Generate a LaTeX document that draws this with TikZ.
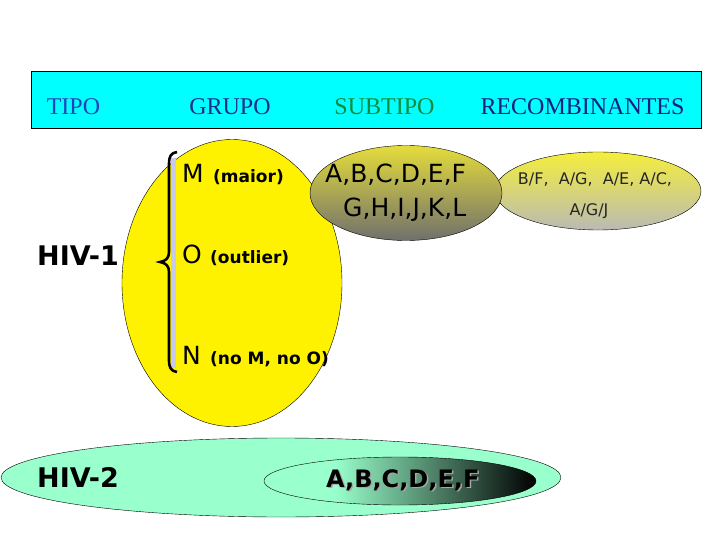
\documentclass[tikz,border=0pt]{standalone}
\usepackage{fontspec}
\setmainfont{Liberation Serif}
\newfontfamily\sansv{DejaVu Sans}
\usepackage{tikz}
\usetikzlibrary{shapes.geometric,positioning}

\definecolor{ciano}{RGB}{0,255,255}
\definecolor{azulTipo}{RGB}{34,68,187}
\definecolor{azulGrupo}{RGB}{28,44,140}
\definecolor{verdeSub}{RGB}{14,138,58}
\definecolor{azulRec}{RGB}{20,32,128}
\definecolor{aguamarinha}{RGB}{153,255,204}
\definecolor{lavanda}{RGB}{200,200,240}
\definecolor{amareloSub}{RGB}{228,220,60}
\definecolor{cinzaSub}{RGB}{112,112,108}
\definecolor{amareloRec}{RGB}{244,238,60}
\definecolor{cinzaRec}{RGB}{186,186,180}
\pgfdeclarehorizontalshading{escurece}{100bp}{color(0bp)=(aguamarinha); color(38bp)=(aguamarinha); color(75bp)=(black); color(100bp)=(black)}

\begin{document}
\begin{tikzpicture}[x=1pt,y=-1pt]
          \tikzset{CabStyle/.style={font=\fontsize{24}{26}\selectfont, inner sep=0pt}}
          \tikzset{GrupoStyle/.style={font=\sansv\fontsize{25}{27}\selectfont, inner sep=0pt, anchor=base west}}
          \tikzset{NotaStyle/.style={font=\sansv\bfseries\fontsize{17}{19}\selectfont, inner sep=0pt, anchor=base west}}
          \tikzset{TipoStyle/.style={font=\sansv\bfseries\fontsize{27}{29}\selectfont, inner sep=0pt, anchor=base west}}
          \tikzset{RecStyle/.style={font=\sansv\fontsize{16}{18}\selectfont, text=black!85, inner sep=0pt}}
          \tikzset{ElipseStyle/.style={ellipse, draw, inner sep=0pt}}

          \useasboundingbox (0,0) rectangle (720,540);

          % cabecalho
          \node[draw, fill=ciano, minimum width=670pt, minimum height=57pt, inner sep=0pt, anchor=north west] (barra) at (31,71) {};
          \node[CabStyle, text=azulTipo] (tipo) at (73.5,107) {TIPO};
          \node[CabStyle, text=azulGrupo] (grupo) at (230,107) {GRUPO};
          \node[CabStyle, text=verdeSub] (subtipo) at (384.5,107) {SUBTIPO};
          \node[CabStyle, text=azulRec] (recomb) at (582.5,107) {RECOMBINANTES};

          % HIV-1
          \node[ElipseStyle, fill=yellow, minimum width=220pt, minimum height=287pt] (hiv1e) at (232,283) {};
          \node[ElipseStyle, top color=amareloRec, bottom color=cinzaRec, minimum width=206pt, minimum height=78pt] (rece) at (598,191) {};
          \node[ElipseStyle, top color=amareloSub, bottom color=cinzaSub, minimum width=192pt, minimum height=95pt] (sube) at (406,193) {};

          \fill[lavanda] (171,158) rectangle (175.5,368);
          \draw[line width=2.6pt] (177,152) .. controls (171,153) and (169,156) .. (169,164)
            -- (169,252) .. controls (169,258) and (166,261) .. (160,262)
            .. controls (166,263) and (169,266) .. (169,272)
            -- (169,360) .. controls (169,368) and (171,371) .. (177,372);

          \node[TipoStyle] (hiv1) at (37,265) {HIV-1};
          \node[GrupoStyle] (m) at (182,183) {M};
          \node[NotaStyle] (mnota) at (213,183) {(maior)};
          \node[GrupoStyle] (o) at (182,263) {O};
          \node[NotaStyle] (onota) at (210,263) {(outlier)};
          \node[GrupoStyle] (n) at (182,364) {N};
          \node[NotaStyle] (nnota) at (210,364) {(no M, no O)};

          \node[GrupoStyle] (sub1) at (325,183) {A,B,C,D,E,F};
          \node[GrupoStyle] (sub2) at (343,217) {G,H,I,J,K,L};
          \node[RecStyle] (rec1) at (595,179) {B/F,~ A/G,~ A/E, A/C,};
          \node[RecStyle] (rec2) at (589,211) {A/G/J};

          % HIV-2
          \node[ElipseStyle, fill=aguamarinha, minimum width=560pt, minimum height=79pt] (hiv2e) at (281,477.5) {};
          \node[ElipseStyle, shading=escurece, minimum width=272pt, minimum height=48pt] (sub2e) at (400,481) {};
          \node[TipoStyle] (hiv2) at (37,487) {HIV-2};
          \node[TipoStyle, font=\sansv\bfseries\fontsize{24}{26}\selectfont, text=gray!70] at (327.5,488.5) {A,B,C,D,E,F};
          \node[TipoStyle, font=\sansv\bfseries\fontsize{24}{26}\selectfont] (sub3) at (326,487) {A,B,C,D,E,F};
        \end{tikzpicture}
\end{document}
